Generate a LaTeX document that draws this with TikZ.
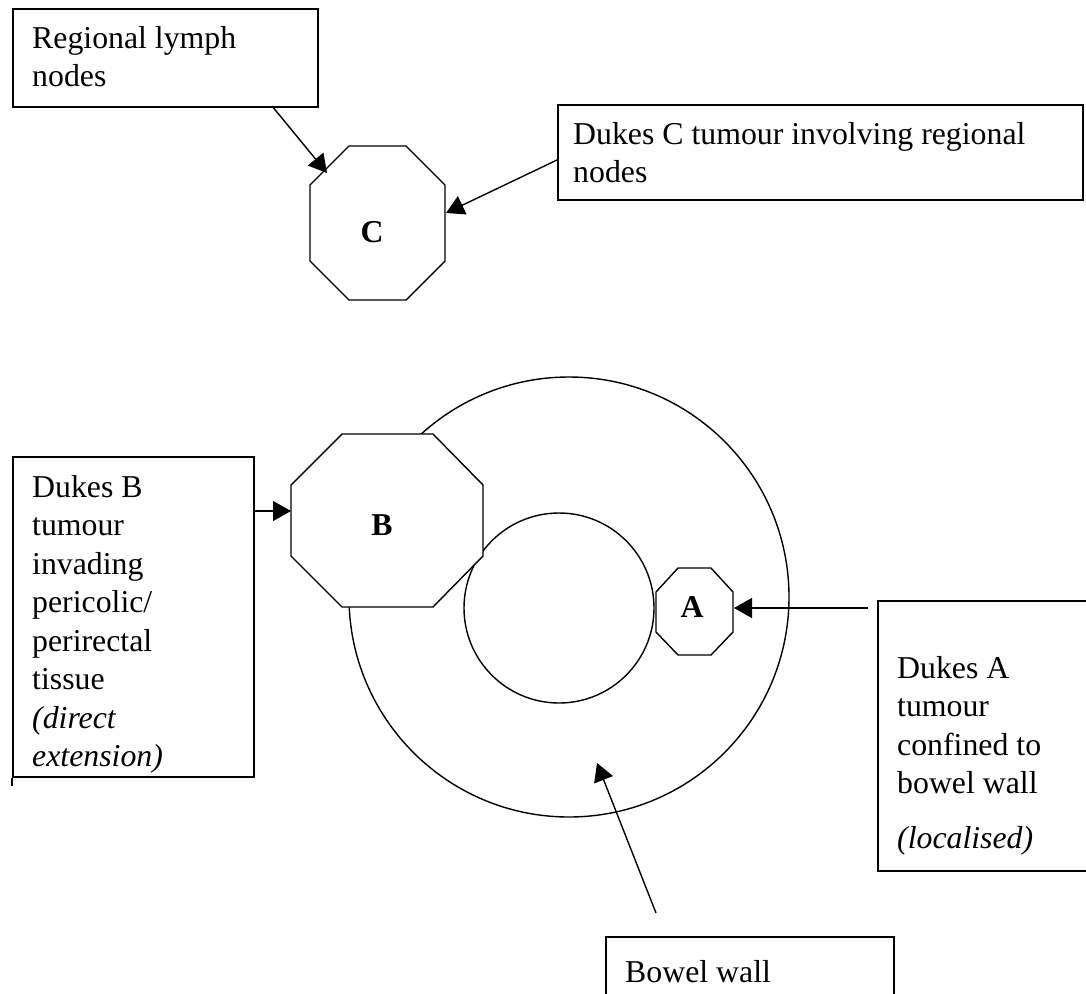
\documentclass[tikz,border=0pt]{standalone}
\usepackage{fontspec}
\setmainfont{Liberation Serif}
\usetikzlibrary{arrows.meta}
\begin{document}
\begin{tikzpicture}[x=1pt,y=-1pt,
  boxst/.style={draw, line width=2pt, inner sep=0pt, anchor=north west},
  txt/.style={anchor=base west, inner sep=0pt, font=\fontsize{31.8}{38.5}\selectfont},
  lbl/.style={anchor=base, inner sep=0pt, font=\fontsize{31.8}{38.5}\selectfont\bfseries},
  octo/.style={draw, fill=white, line width=1.4pt, line join=miter},
  ring/.style={draw, line width=1.4pt},
  arr/.style={line width=1.4pt, -{Triangle[length=18pt,width=20pt]}}]
\useasboundingbox (0,0) rectangle (1086,993);
% bowel rings
\node[ring, circle, minimum size=440pt, inner sep=0pt] (outer) at (569,597) {};
\node[ring, circle, minimum size=190pt, inner sep=0pt] (inner) at (559,608) {};
% octagons
\draw[octo] (349,146) -- (406,146) -- (445,185) -- (445,261) -- (406,300) -- (349,300) -- (310,261) -- (310,185) -- cycle;
\node[lbl] (C) at (372,242) {C};
\draw[octo] (342,434) -- (433,434) -- (483,485) -- (483,556) -- (433,607) -- (342,607) -- (291,556) -- (291,485) -- cycle;
\node[lbl] (B) at (382,535) {B};
\draw[octo] (678,568) -- (711,568) -- (733,592) -- (733,632) -- (711,655) -- (678,655) -- (656,632) -- (656,592) -- cycle;
\node[lbl] (A) at (692,617) {A};
% boxes
\node[boxst, minimum width=305pt, minimum height=98pt] (lymphbox) at (12,8) {};
\node[txt] (lymphtxt) at (32,48) {\begin{tabular}[t]{@{}l@{}}Regional lymph\\ nodes\end{tabular}};
\node[boxst, minimum width=525pt, minimum height=95pt] (dcbox) at (557,104) {};
\node[txt] (dctxt) at (573,144) {\begin{tabular}[t]{@{}l@{}}Dukes C tumour involving regional\\ nodes\end{tabular}};
\node[boxst, minimum width=241pt, minimum height=320pt] (dbbox) at (12,456) {};
\draw[line width=1.4pt] (dbbox.south west) -- ++(0,8);
\node[txt] (dbtxt) at (32,497) {\begin{tabular}[t]{@{}l@{}}Dukes B\\ tumour\\ invading\\ pericolic/\\ perirectal\\ tissue\\ \textit{(direct}\\ \textit{extension)}\end{tabular}};
\node[boxst, minimum width=215pt, minimum height=270pt] (dabox) at (877,600) {};
\node[txt] (datxt) at (897,678) {\begin{tabular}[t]{@{}l@{}}Dukes A\\ tumour\\ confined to\\ bowel wall\\[16.5pt] \textit{(localised)}\end{tabular}};
\node[boxst, minimum width=288pt, minimum height=80pt] (bowelbox) at (605,936) {};
\node[txt] (boweltxt) at (625,982) {Bowel wall};
% connector ends
\coordinate (lymphout) at (272,106);
\coordinate (Cin1) at (327,173);
\coordinate (dcout) at (557,160);
\coordinate (Cin2) at (446,213);
\coordinate (dbout) at (253,511);
\coordinate (Bin) at (291,511);
\coordinate (daout) at (868,608);
\coordinate (Ain) at (734,608);
\coordinate (bowelout) at (656,913);
\coordinate (wallpt) at (597,763);
\draw[arr] (lymphout) -- (Cin1);
\draw[arr] (dcout) -- (Cin2);
\draw[arr] (dbout) -- (Bin);
\draw[arr] (daout) -- (Ain);
\draw[arr] (bowelout) -- (wallpt);
\end{tikzpicture}
\end{document}
